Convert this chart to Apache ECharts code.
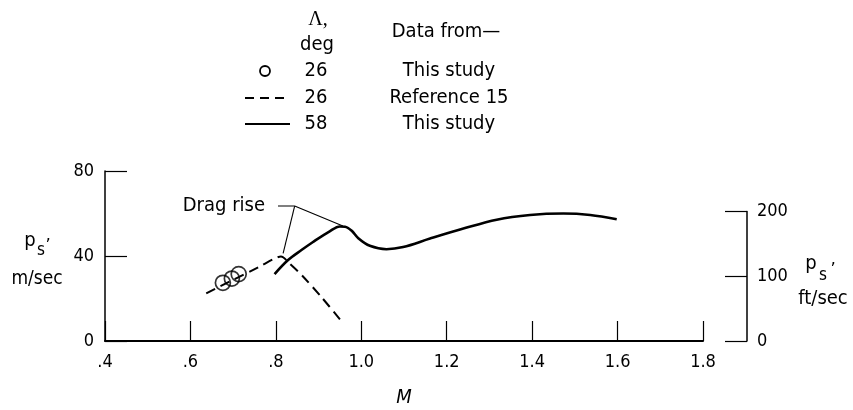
<!DOCTYPE html>
<html><head><meta charset="utf-8">
<script src="https://cdn.jsdelivr.net/npm/echarts@6/dist/echarts.min.js"></script>
<style>html,body{margin:0;padding:0;background:#fff}#c{width:853px;height:410px}</style>
</head><body><div id="c"></div>
<script>
// ---- data ----
const xTickLabels = ['.4', '.6', '.8', '1.0', '1.2', '1.4', '1.6', '1.8'];
const yLeftTickLabels = ['0', '40', '80'];
const yRightTickLabels = ['0', '100', '200'];

// Lambda = 26 deg, this study (circles)
const circlesM = [0.676, 0.697, 0.713];
const circlesPs = [27.4, 29.4, 31.5];

// Lambda = 26 deg, reference 15 (dashed)
const ref15M = [0.637, 0.70, 0.76, 0.795, 0.812, 0.832, 0.863, 0.907, 0.950];
const ref15Ps = [22.4, 28.8, 34.8, 38.6, 39.8, 36.5, 30.5, 20.6, 10.2];

// Lambda = 58 deg, this study (solid)
const sw58M = [0.797, 0.828, 0.860, 0.887, 0.926, 0.950, 0.962, 0.977, 0.993, 1.020, 1.059, 1.098, 1.161, 1.239, 1.317, 1.395, 1.473, 1.536, 1.598];
const sw58Ps = [31.5, 38.0, 42.8, 46.6, 51.6, 53.9, 53.8, 52.0, 48.4, 44.8, 43.2, 44.2, 48.2, 52.9, 57.1, 59.3, 60.0, 59.3, 57.3];

// "Drag rise" leader lines (data coordinates)
const leaderAM = [0.805, 0.844, 0.957];
const leaderAPs = [63.5, 63.5, 54.1];
const leaderBM = [0.844, 0.817];
const leaderBPs = [63.5, 41.2];
const dragRiseText = 'Drag rise';

// legend table
const legendHeadAngle = ['\u039B,', 'deg'];
const legendHeadSource = 'Data from\u2014';
const legendAngles = ['26', '26', '58'];
const legendSources = ['This study', 'Reference 15', 'This study'];

// ---- chart ----
const FONT = "'DejaVu Sans Condensed','Liberation Sans Narrow','DejaVu Sans',sans-serif";
const zip = (a, b) => a.map((v, i) => [v, b[i]]);
const txt = (x, y, text, extra) => Object.assign({
  type: 'text', x: x, y: y,
  style: Object.assign({text: text, fill: '#000', font: '20px ' + FONT, align: 'center', verticalAlign: 'middle'}, extra || {})
});

const rowY = [71, 98, 124];
const graphic = [];
graphic.push(txt(318, 20, legendHeadAngle[0], {font: '20px "Liberation Serif","DejaVu Serif",serif'}));
graphic.push(txt(317, 45, legendHeadAngle[1]));
graphic.push(txt(446, 32, legendHeadSource));
legendAngles.forEach((a, i) => {
  graphic.push(txt(316, rowY[i], a));
  graphic.push(txt(449, rowY[i], legendSources[i]));
});
graphic.push({type: 'circle', shape: {cx: 265, cy: rowY[0], r: 5}, style: {fill: 'none', stroke: '#000', lineWidth: 1.8}});
graphic.push({type: 'line', shape: {x1: 245, y1: rowY[1], x2: 289, y2: rowY[1]}, style: {stroke: '#000', lineWidth: 2, lineDash: [9, 6]}});
graphic.push({type: 'line', shape: {x1: 245, y1: rowY[2], x2: 290, y2: rowY[2]}, style: {stroke: '#000', lineWidth: 2}});
// axis names
graphic.push(txt(30, 241, 'p', {font: '20px ' + FONT}));
graphic.push(txt(41, 251, 's', {font: '17px ' + FONT}));
graphic.push(txt(48, 246, '\u2019', {font: '18px ' + FONT}));
graphic.push(txt(37, 279, 'm/sec', {font: '19px ' + FONT}));
graphic.push(txt(811, 264, 'p', {font: '20px ' + FONT}));
graphic.push(txt(823, 276, 's', {font: '17px ' + FONT}));
graphic.push(txt(833, 270, '\u2019', {font: '18px ' + FONT}));
graphic.push(txt(823, 299, 'ft/sec'));

const chart = echarts.init(document.getElementById('c'), null, {renderer: 'canvas'});
chart.setOption({
  animation: false,
  backgroundColor: '#fff',
  textStyle: {fontFamily: FONT, color: '#000'},
  grid: [
    {left: 105, right: 150, top: 171, bottom: 69},
    {left: 105, right: 150, top: 211.5, bottom: 69}
  ],
  xAxis: [
    {
      type: 'value', gridIndex: 0, min: 0.4, max: 1.8, interval: 0.2,
      name: 'M', nameLocation: 'middle', nameGap: 47,
      nameTextStyle: {fontSize: 20, fontStyle: 'italic', color: '#000', fontFamily: FONT},
      axisLine: {lineStyle: {color: '#000', width: 2}},
      axisTick: {inside: true, length: 20, lineStyle: {color: '#000', width: 1.2}},
      splitLine: {show: false},
      axisLabel: {
        margin: 12, fontSize: 18, color: '#000', fontFamily: FONT,
        formatter: v => xTickLabels[Math.round((v - 0.4) / 0.2)] || ''
      }
    },
    {type: 'value', gridIndex: 1, min: 0.4, max: 1.8, show: false}
  ],
  yAxis: [
    {
      type: 'value', gridIndex: 0, min: 0, max: 80, interval: 40,
      axisLine: {show: true, lineStyle: {color: '#000', width: 1.5}},
      axisTick: {show: true, inside: true, length: 22, lineStyle: {color: '#000', width: 1.2}},
      splitLine: {show: false},
      axisLabel: {margin: 11, fontSize: 18, color: '#000', fontFamily: FONT,
        formatter: v => yLeftTickLabels[Math.round(v / 40)] || ''}
    },
    {
      type: 'value', gridIndex: 1, position: 'right', offset: 44, min: 0, max: 200, interval: 100,
      axisLine: {show: true, lineStyle: {color: '#000', width: 1.5}},
      axisTick: {show: true, inside: true, length: 22, lineStyle: {color: '#000', width: 1.2}},
      splitLine: {show: false},
      axisLabel: {margin: 10, fontSize: 18, color: '#000', fontFamily: FONT,
        formatter: v => yRightTickLabels[Math.round(v / 100)] || ''}
    }
  ],
  graphic: graphic,
  series: [
    {
      type: 'line', name: 'ref15', xAxisIndex: 0, yAxisIndex: 0,
      data: zip(ref15M, ref15Ps), smooth: 0.3, showSymbol: false, silent: true,
      lineStyle: {color: '#000', width: 2, type: [10, 6]}, z: 2
    },
    {
      type: 'line', name: 'sw58', xAxisIndex: 0, yAxisIndex: 0,
      data: zip(sw58M, sw58Ps), smooth: 0.35, showSymbol: false, silent: true,
      lineStyle: {color: '#000', width: 2.6}, z: 3
    },
    {
      type: 'scatter', name: 'circles', xAxisIndex: 0, yAxisIndex: 0,
      data: zip(circlesM, circlesPs), symbol: 'circle', symbolSize: 15,
      itemStyle: {color: 'rgba(0,0,0,0)', borderColor: '#000', borderWidth: 1.7}, z: 4, silent: true
    },
    {
      type: 'line', name: 'leaderA', xAxisIndex: 0, yAxisIndex: 0,
      data: zip(leaderAM, leaderAPs), showSymbol: false, silent: true,
      lineStyle: {color: '#000', width: 1.1}, z: 3,
      markPoint: {
        symbol: 'circle', symbolSize: 0, silent: true,
        data: [{coord: [leaderAM[0], leaderAPs[0]]}],
        label: {show: true, position: 'left', distance: 13, formatter: dragRiseText,
          color: '#000', fontSize: 20, fontFamily: FONT}
      }
    },
    {
      type: 'line', name: 'leaderB', xAxisIndex: 0, yAxisIndex: 0,
      data: zip(leaderBM, leaderBPs), showSymbol: false, silent: true,
      lineStyle: {color: '#000', width: 1.1}, z: 3
    }
  ]
});
</script>
</body></html>
